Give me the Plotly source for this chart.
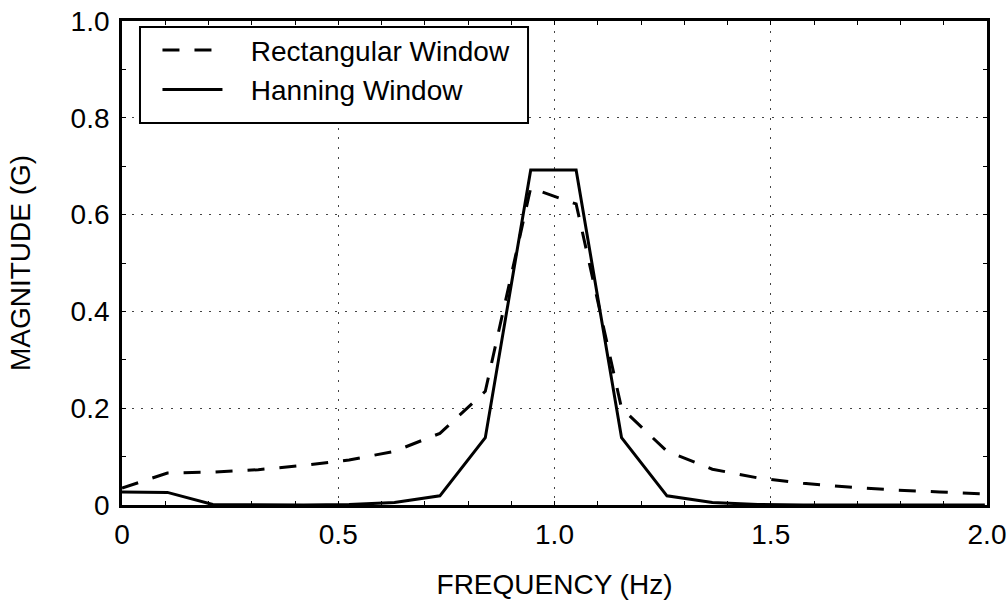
import plotly.graph_objects as go

freq = [0.0, 0.105, 0.21, 0.315, 0.42, 0.525, 0.63, 0.735, 0.84, 0.945,
        1.05, 1.155, 1.26, 1.365, 1.47, 1.575, 1.68, 1.785, 1.89, 1.995]
rect_mag = [0.035, 0.066, 0.068, 0.073, 0.082, 0.093, 0.111, 0.148, 0.235, 0.655,
            0.622, 0.200, 0.111, 0.074, 0.056, 0.045, 0.037, 0.031, 0.027, 0.023]
hann_mag = [0.027, 0.026, 0.001, 0.0, 0.0, 0.001, 0.005, 0.019, 0.139, 0.692,
            0.692, 0.139, 0.019, 0.005, 0.001, 0.0, 0.0, 0.0, 0.0, 0.0]

x_tickvals = [0, 0.5, 1.0, 1.5, 2.0]
x_ticktext = ["0", "0.5", "1.0", "1.5", "2.0"]
y_tickvals = [0, 0.2, 0.4, 0.6, 0.8, 1.0]
y_ticktext = ["0", "0.2", "0.4", "0.6", "0.8", "1.0"]

FONT = "Liberation Sans, Arial, sans-serif"
FS = 28
NB = "\u00a0\u00a0\u00a0"

fig = go.Figure()
fig.add_trace(go.Scatter(x=freq, y=rect_mag, mode="lines", name=NB + "Rectangular Window",
                         line=dict(color="black", width=3, dash="17px,15px")))
fig.add_trace(go.Scatter(x=freq, y=hann_mag, mode="lines", name=NB + "Hanning Window",
                         line=dict(color="black", width=3)))

axis_common = dict(
    showline=True, linecolor="black", linewidth=2.8, mirror="ticks",
    ticks="inside", ticklen=4, tickwidth=1, tickcolor="black",
    showgrid=True, gridcolor="#444444", gridwidth=1.2, griddash="2px,7.7px",
    zeroline=False, automargin=False,
    tickfont=dict(size=FS, color="black", family=FONT),
)

fig.update_xaxes(range=[0, 2.0], tickvals=x_tickvals, ticktext=x_ticktext,
                 ticklabelstandoff=2,
                 minor=dict(dtick=0.1, tick0=0, ticks="inside", ticklen=4, tickcolor="black", showgrid=False),
                 title=dict(text="FREQUENCY (Hz)", font=dict(size=FS, color="black", family=FONT), standoff=26),
                 **axis_common)
fig.update_yaxes(range=[0, 1.0], tickvals=y_tickvals, ticktext=y_ticktext,
                 ticklabelstandoff=4,
                 minor=dict(dtick=0.1, tick0=0, ticks="inside", ticklen=4, tickcolor="black", showgrid=False),
                 title=dict(text="MAGNITUDE (G)", font=dict(size=FS, color="black", family=FONT), standoff=32),
                 **axis_common)

# legend frame
fig.add_shape(type="rect", xref="paper", yref="paper",
              x0=0.0208, x1=0.4694, y0=0.7893, y1=0.9876,
              line=dict(color="black", width=2), fillcolor="white", layer="above")

fig.update_layout(
    width=1008, height=607,
    margin=dict(l=122, r=21, t=21, b=102),
    plot_bgcolor="white", paper_bgcolor="white",
    font=dict(family=FONT, color="black", size=FS),
    showlegend=True,
    legend=dict(x=0.041, y=0.991, xanchor="left", yanchor="top",
                borderwidth=0, bgcolor="rgba(0,0,0,0)",
                font=dict(size=FS, family=FONT), itemwidth=60,
                tracegroupgap=0),
)

fig.write_html("out.html")
